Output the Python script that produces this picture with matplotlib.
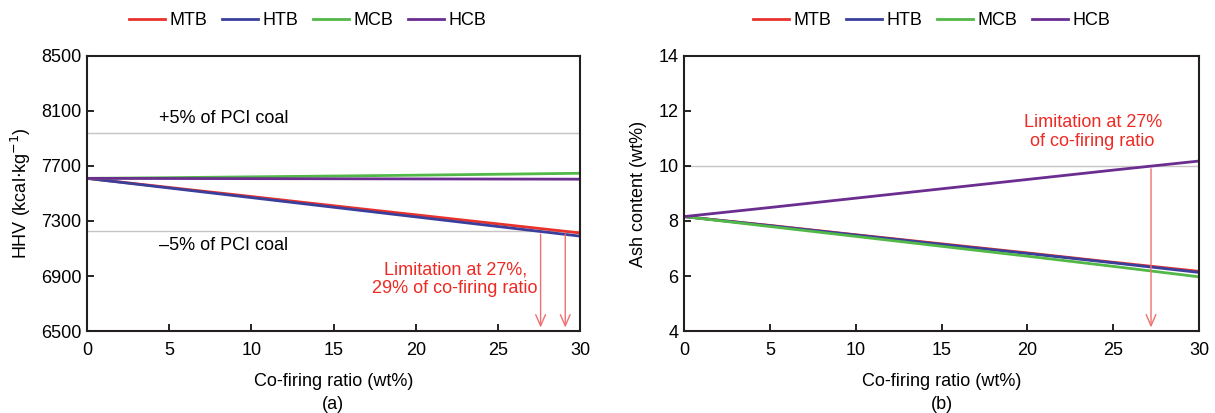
import matplotlib.pyplot as plt

plt.rcParams['font.family'] = ['Liberation Sans', 'DejaVu Sans']

# co-firing ratio (wt%)
ratio = [0, 5, 10, 15, 20, 25, 30]
series_names = ["MTB", "HTB", "MCB", "HCB"]
colors = ["#e8322b", "#3b3f9c", "#52b848", "#6b2d8f"]

# (a) HHV, kcal/kg
hhv_mtb = [7610, 7544, 7478, 7411, 7345, 7279, 7213]
hhv_htb = [7610, 7540, 7470, 7400, 7330, 7260, 7190]
hhv_mcb = [7610, 7615, 7621, 7627, 7633, 7640, 7647]
hhv_hcb = [7610, 7609, 7608, 7607, 7606, 7605, 7604]
hhv_upper = 7940   # +5% of PCI coal
hhv_lower = 7225   # -5% of PCI coal
hhv_limits = [27.6, 29.1]

# (b) ash content, wt%
ash_mtb = [8.16, 7.84, 7.50, 7.17, 6.84, 6.50, 6.17]
ash_htb = [8.16, 7.83, 7.49, 7.15, 6.82, 6.48, 6.13]
ash_mcb = [8.16, 7.80, 7.44, 7.08, 6.72, 6.35, 5.97]
ash_hcb = [8.16, 8.49, 8.83, 9.17, 9.51, 9.85, 10.18]
ash_ref = 10.0
ash_limits = [27.2]

red = "#ee2a24"
arrow_red = "#f07070"
fs = 13

fig = plt.figure(figsize=(12.15, 4.13), dpi=100)
ax1 = fig.add_axes([0.0716, 0.1985, 0.4058, 0.666])
ax2 = fig.add_axes([0.563, 0.1985, 0.4239, 0.666])


def style(ax):
    for s in ax.spines.values():
        s.set_linewidth(1.5)
        s.set_color("#231f20")
    ax.tick_params(direction="in", length=5, width=1.2, labelsize=fs,
                   top=False, right=False)
    ax.tick_params(axis="x", pad=8)
    ax.tick_params(axis="y", pad=4)
    ax.set_xlim(0, 30)
    ax.set_xticks([0, 5, 10, 15, 20, 25, 30])
    ax.set_xlabel("Co-firing ratio (wt%)", fontsize=fs, labelpad=10)


def legend(ax, xc):
    handles, labels = ax.get_legend_handles_labels()
    fig.legend(handles, labels, loc="center", bbox_to_anchor=(xc, 0.95),
               ncol=4, frameon=False, fontsize=fs, handlelength=2.0,
               handletextpad=0.25, columnspacing=0.8)


# ---- panel (a)
for vals, name, c in zip([hhv_mtb, hhv_htb, hhv_mcb, hhv_hcb], series_names, colors):
    ax1.plot(ratio, vals, color=c, lw=2, label=name)
ax1.axhline(hhv_upper, color="#c8c4c4", lw=1, zorder=0)
ax1.axhline(hhv_lower, color="#c8c4c4", lw=1, zorder=0)
ax1.set_ylim(6500, 8500)
ax1.set_yticks([6500, 6900, 7300, 7700, 8100, 8500])
ax1.set_ylabel("HHV (kcal$\\cdot$kg$^{-1}$)", fontsize=fs, labelpad=6)
style(ax1)
ax1.text(4.4, hhv_upper + 40, "+5% of PCI coal", fontsize=fs, va="bottom")
ax1.text(4.4, hhv_lower - 40, "\u20135% of PCI coal", fontsize=fs, va="top")
ax1.text(22.4, 6878, "Limitation at 27%,\n29% of co-firing ratio", color=red,
         fontsize=fs, ha="center", va="center", linespacing=1.15)
for lx in hhv_limits:
    ax1.annotate("", xy=(lx, 6505), xytext=(lx, hhv_lower),
                 arrowprops=dict(arrowstyle="->,head_length=0.8,head_width=0.35",
                                 color=arrow_red, lw=1))
legend(ax1, 0.253)

# ---- panel (b)
for vals, name, c in zip([ash_mtb, ash_htb, ash_mcb, ash_hcb], series_names, colors):
    ax2.plot(ratio, vals, color=c, lw=2, label=name)
ax2.axhline(ash_ref, color="#c8c4c4", lw=1, zorder=0)
ax2.set_ylim(4, 14)
ax2.set_yticks([4, 6, 8, 10, 12, 14])
ax2.set_ylabel("Ash content (wt%)", fontsize=fs, labelpad=8)
style(ax2)
ax2.text(23.8, 11.24, "Limitation at 27%\nof co-firing ratio", color=red,
         fontsize=fs, ha="center", va="center", linespacing=1.15)
for lx in ash_limits:
    ax2.annotate("", xy=(lx, 4.03), xytext=(lx, ash_ref),
                 arrowprops=dict(arrowstyle="->,head_length=0.8,head_width=0.35",
                                 color=arrow_red, lw=1))
legend(ax2, 0.767)

# panel captions
fig.text(0.274, 0.021, "(a)", ha="center", va="center", fontsize=fs)
fig.text(0.775, 0.021, "(b)", ha="center", va="center", fontsize=fs)

fig.savefig("out.png", dpi=100)
